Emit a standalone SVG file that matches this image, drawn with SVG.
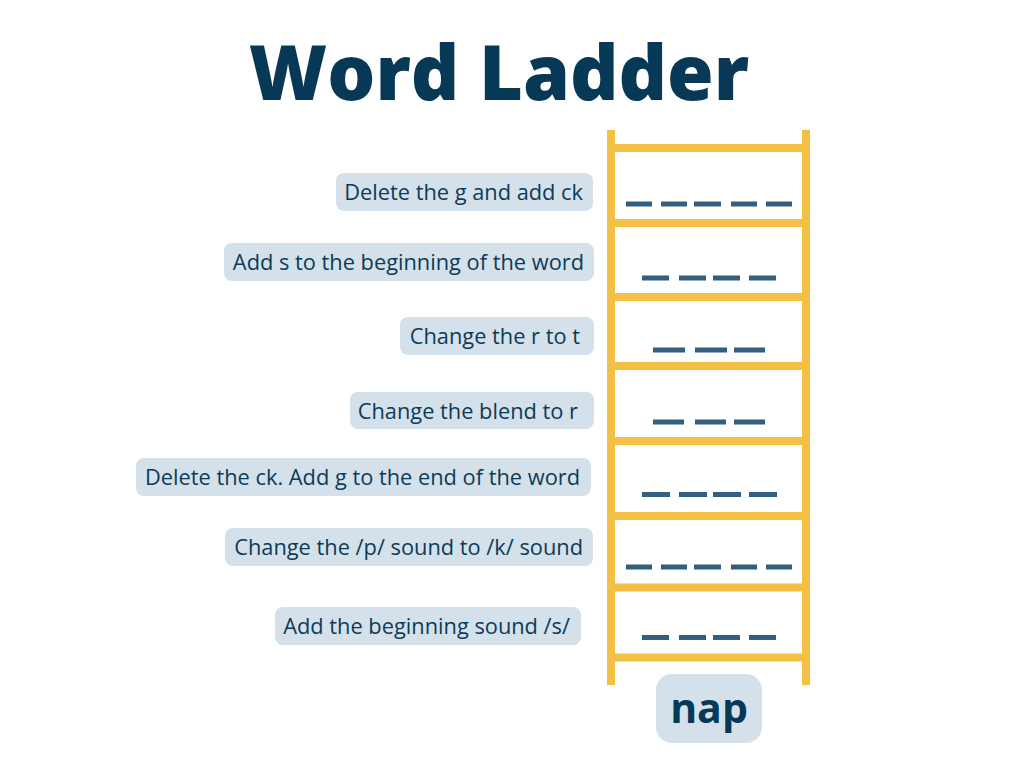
<svg xmlns="http://www.w3.org/2000/svg" width="1024" height="768" viewBox="0 0 1024 768">
<style>
.lbl{fill:#d4e1ea}
.t{font-family:"Open Sans","Noto Sans","Liberation Sans",sans-serif;font-size:21.8px;fill:#0d3b58;text-anchor:end}
.rail{fill:#f1c045}
.d{stroke:#325f80;stroke-width:5}
</style>
<rect width="1024" height="768" fill="#ffffff"/>
<text x="499" y="100" font-family="'Open Sans','Noto Sans','Liberation Sans',sans-serif" font-weight="800" font-size="75.5" fill="#073855" text-anchor="middle">Word Ladder</text>
<g id="ladder">
<rect class="rail" x="607" y="130" width="8" height="555"/>
<rect class="rail" x="802" y="130" width="8" height="555"/>
<rect class="rail" x="607" y="144" width="203" height="8"/>
<rect class="rail" x="607" y="219" width="203" height="8"/>
<rect class="rail" x="607" y="293" width="203" height="8"/>
<rect class="rail" x="607" y="362" width="203" height="8"/>
<rect class="rail" x="607" y="437" width="203" height="8"/>
<rect class="rail" x="607" y="512" width="203" height="8"/>
<rect class="rail" x="607" y="583.5" width="203" height="8"/>
<rect class="rail" x="607" y="653.5" width="203" height="8"/>
</g>
<g id="blanks">
<path class="d" d="M626 204H652M661 204H687M694 204H721M731 204H757M766 204H792"/>
<path class="d" d="M642 278H669M679 278H706M713 278H740M749 278H776"/>
<path class="d" d="M653 350H685M695 350H727M734 350H765"/>
<path class="d" d="M653 422H684M695 422H726M734 422H765"/>
<path class="d" d="M642 494.5H670M679 494.5H707M713 494.5H741M749 494.5H777"/>
<path class="d" d="M626 567H652M661 567H687M694 567H721M731 567H757M766 567H792"/>
<path class="d" d="M642 637.5H669M679 637.5H706M713 637.5H740M749 637.5H776"/>
</g>
<g id="step1"><rect class="lbl" x="336" y="173" width="257" height="38" rx="8"/><text class="t" x="583" y="200">Delete the g and add ck</text></g>
<g id="step2"><rect class="lbl" x="224" y="243" width="370" height="38" rx="8"/><text class="t" x="584" y="270">Add s to the beginning of the word</text></g>
<g id="step3"><rect class="lbl" x="400" y="317" width="194" height="38" rx="8"/><text class="t" x="580" y="344">Change the r to t</text></g>
<g id="step4"><rect class="lbl" x="350" y="392" width="244" height="37" rx="8"/><text class="t" x="578" y="418.5">Change the blend to r</text></g>
<g id="step5"><rect class="lbl" x="136" y="458" width="455" height="38" rx="8"/><text class="t" x="580" y="485">Delete the ck. Add g to the end of the word</text></g>
<g id="step6"><rect class="lbl" x="225" y="528" width="368" height="38" rx="8"/><text class="t" x="583" y="555">Change the /p/ sound to /k/ sound</text></g>
<g id="step7"><rect class="lbl" x="275" y="607" width="306" height="38" rx="8"/><text class="t" x="570" y="634">Add the beginning sound /s/</text></g>
<g id="start"><rect class="lbl" x="656" y="674" width="106" height="69" rx="16"/><text x="709" y="723" font-family="'Open Sans','Noto Sans','Liberation Sans',sans-serif" font-weight="700" font-size="41" fill="#073855" text-anchor="middle">nap</text></g>
</svg>
